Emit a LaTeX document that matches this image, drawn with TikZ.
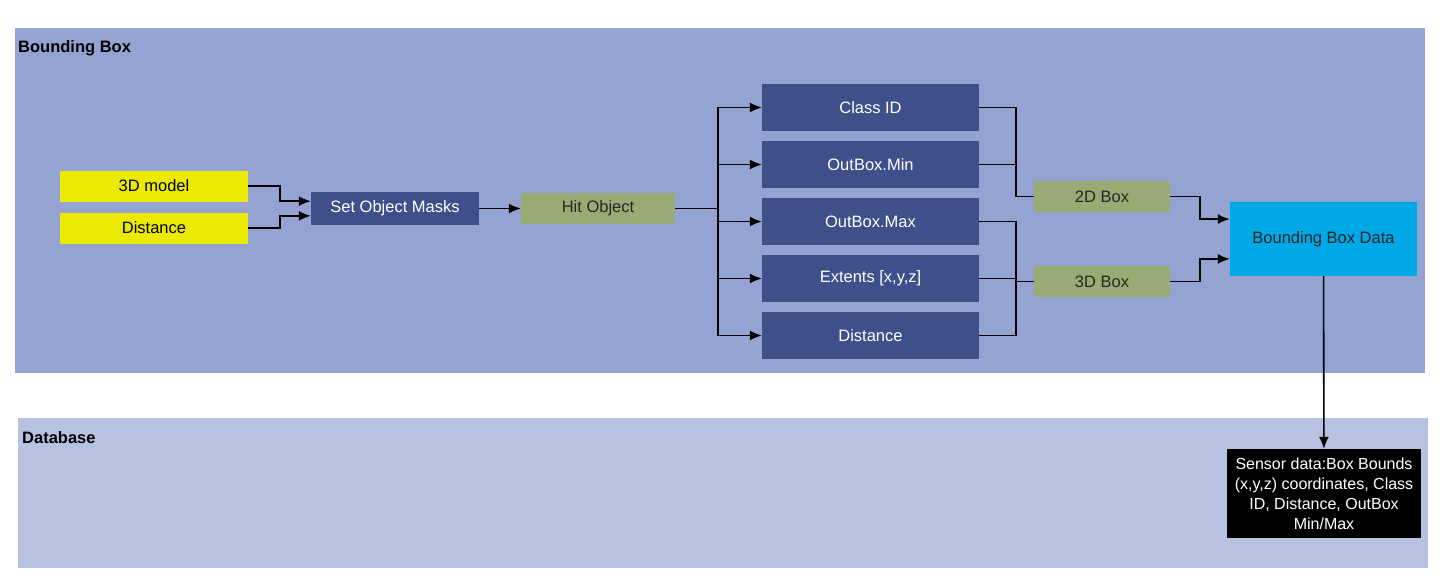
\documentclass[tikz,border=0pt]{standalone}
\usepackage{fontspec}
\setmainfont{Liberation Sans}
\usepackage{xcolor}
\usetikzlibrary{shapes,arrows,arrows.meta,positioning}

\definecolor{bbfill}{RGB}{148,163,209}
\definecolor{dbfill}{RGB}{183,193,226}
\definecolor{navy}{RGB}{62,79,138}
\definecolor{olive}{RGB}{154,170,116}
\definecolor{lemon}{RGB}{236,234,0}
\definecolor{sky}{RGB}{0,168,230}

\begin{document}
\begin{tikzpicture}[x=1pt, y=-1pt, node distance=57pt, auto, font=\fontsize{16.5}{19}\selectfont]
    \tikzstyle{region} = [rectangle, anchor=north west, inner sep=0pt]
    \tikzstyle{heading} = [anchor=west, inner sep=0pt, font=\fontsize{16.5}{18}\selectfont\bfseries]
    \tikzstyle{source} = [rectangle, fill=lemon, minimum width=188pt, minimum height=31pt]
    \tikzstyle{block} = [rectangle, fill=navy, text=white, minimum width=217pt, minimum height=47pt]
    \tikzstyle{stage} = [rectangle, fill=olive, text=black!85, minimum width=154pt, minimum height=31pt]
    \tikzstyle{line} = [draw, line width=1.6pt, -{Latex[length=12pt,width=10pt]}]
    \tikzstyle{link} = [draw, line width=1.6pt]

    \useasboundingbox (0,0) rectangle (1443,583);

    % swimlanes
    \node [region, fill=bbfill, minimum width=1410pt, minimum height=345pt] (bbox) at (15,28) {};
    \node [region, fill=dbfill, minimum width=1410pt, minimum height=150pt] (db) at (18,418) {};
    \node [heading] (bblabel) at (18,48) {Bounding Box};
    \node [heading] (dblabel) at (22,438) {Database};

    \node [source] (model) at (154,186) {3D model};
    \node [source, below of=model, node distance=42pt] (dist) {Distance};
    \node [block, minimum width=168pt, minimum height=33pt] (masks) at (395,208.5) {Set Object Masks};
    \node [stage] (hit) at (598,208.5) {Hit Object};

    \node [block] (classid) at (870.5,107.5) {Class ID};
    \node [block, below of=classid] (outmin) {OutBox.Min};
    \node [block, below of=outmin] (outmax) {OutBox.Max};
    \node [block, below of=outmax] (extents) {Extents [x,y,z]};
    \node [block, below of=extents] (bdist) {Distance};

    \node [stage, minimum width=136pt] (box2d) at (1102,196.5) {2D Box};
    \node [stage, minimum width=136pt] (box3d) at (1102,281.5) {3D Box};
    \node [rectangle, fill=sky, text=black!85, minimum width=187pt, minimum height=74pt] (bbdata) at (1323.5,239) {Bounding Box Data};
    \node [rectangle, fill=black, text=white, align=center, minimum width=194pt, minimum height=89pt,
        font=\fontsize{16}{20}\selectfont] (sensor) at (1324,493.5)
        {Sensor data:Box Bounds\\(x,y,z) coordinates, Class\\ID, Distance, OutBox\\Min/Max};

    \path [line] (model.east) -- ++(32,0) |- (masks.175);
    \path [line] (dist.east) -- ++(32,0) |- (masks.185);
    \path [line] (masks) -- (hit);
    \foreach \n in {classid,outmin,outmax,extents,bdist}
        \path [line] (hit.east) -- ++(43,0) |- (\n.west);
    \foreach \n in {classid,outmin}
        \path [link] (\n.east) -- ++(37,0) |- (box2d.west);
    \foreach \n in {outmax,extents,bdist}
        \path [link] (\n.east) -- ++(37,0) |- (box3d.west);
    \path [line] (box2d.east) -- ++(30,0) |- (bbdata.168);
    \path [line] (box3d.east) -- ++(30,0) |- (bbdata.192);
    \path [line] (bbdata) -- (sensor);
\end{tikzpicture}
\end{document}
